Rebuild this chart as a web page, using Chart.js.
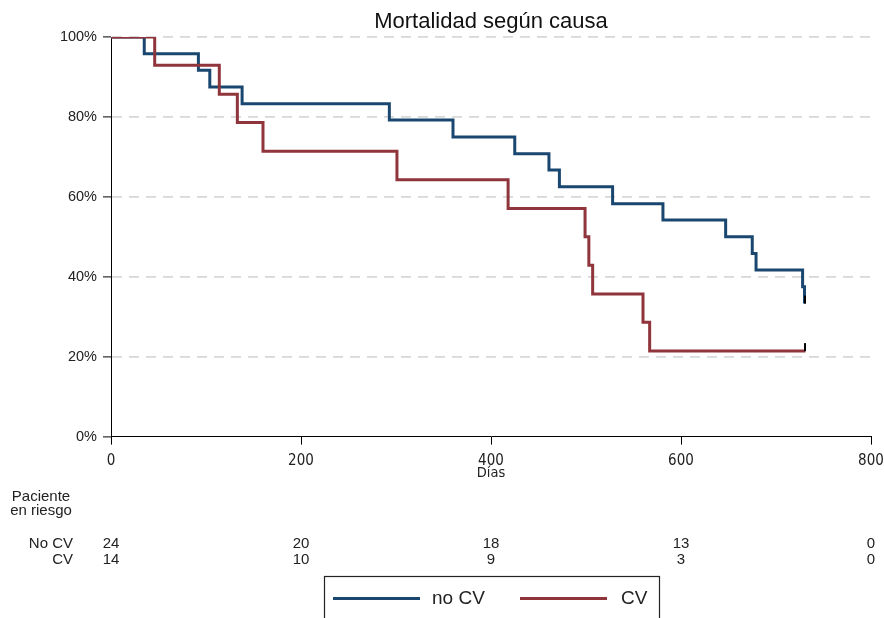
<!DOCTYPE html>
<html lang="es">
<head>
<meta charset="utf-8">
<title>Mortalidad según causa</title>
<script src="https://cdn.jsdelivr.net/npm/chart.js@4/dist/chart.umd.min.js"></script>
<style>
  html, body { margin: 0; padding: 0; background: #ffffff; }
  canvas { display: block; }
</style>
</head>
<body>
<canvas id="km" width="884" height="618"></canvas>
<script>
// Kaplan–Meier survival steps: [day, survival] after each event
const noCvDays     = [0, 35, 92, 104, 138, 293, 360, 425, 461, 472, 528, 581, 647, 675, 679, 728, 730];
const noCvSurvival = [1.000, 0.958, 0.917, 0.875, 0.833, 0.792, 0.750, 0.708, 0.667, 0.625, 0.583, 0.542, 0.500, 0.458, 0.417, 0.375, 0.333];

const cvDays     = [0, 46, 114, 133, 160, 301, 418, 499, 503, 507, 560, 567, 731];
const cvSurvival = [1.000, 0.929, 0.857, 0.786, 0.714, 0.643, 0.571, 0.500, 0.429, 0.357, 0.286, 0.214, 0.214];

// censored observations at end of follow-up
const noCvCensorDay = 731, noCvCensorValue = 0.333;
const cvCensorDay = 731,   cvCensorValue = 0.214;

// number at risk table
const riskTimes = [0, 200, 400, 600, 800];
const riskNoCv  = [24, 20, 18, 13, 0];
const riskCv    = [14, 10, 9, 3, 0];

const seriesLabels = ['no CV', 'CV'];
const riskRowLabels = ['No CV', 'CV'];
const yTickValues = [0, 0.2, 0.4, 0.6, 0.8, 1.0];
const xTickValues = [0, 200, 400, 600, 800];

const BLUE = '#1a476f';
const RED = '#90353b';
const FONT = '"Liberation Sans", Arial, Helvetica, sans-serif';
const NARROW = '"Liberation Sans Narrow", "Arial Narrow", "DejaVu Sans Condensed", "Liberation Sans", sans-serif';

const toPoints = (xs, ys) => xs.map((x, i) => ({ x, y: ys[i] }));

// small black vertical tick rising from the censored point
function censorGlyph() {
  const c = document.createElement('canvas');
  c.width = 2; c.height = 18;
  const g = c.getContext('2d');
  g.fillStyle = '#000';
  g.fillRect(0, 1, 2, 8);
  return c;
}
const censorMark = censorGlyph();

const riskTablePlugin = {
  id: 'riskTable',
  afterDraw(chart) {
    const { ctx } = chart;
    const xs = chart.scales.x;
    ctx.save();
    ctx.fillStyle = '#222';
    ctx.font = '15px ' + FONT;
    ctx.textBaseline = 'middle';
    ctx.textAlign = 'center';
    ctx.fillText('Paciente', 41, 497);
    ctx.fillText('en riesgo', 41, 511);

    ctx.textAlign = 'right';
    ctx.fillText(riskRowLabels[0], 73, 544);
    ctx.fillText(riskRowLabels[1], 73, 560);

    ctx.textAlign = 'center';
    riskTimes.forEach((t, i) => {
      const px = xs.getPixelForValue(t);
      ctx.fillText(String(riskNoCv[i]), px, 544);
      ctx.fillText(String(riskCv[i]), px, 560);
    });

    // legend box
    ctx.strokeStyle = '#222';
    ctx.lineWidth = 1.2;
    ctx.strokeRect(324.5, 576.5, 335, 50);
    const ds = chart.data.datasets;
    const entries = [
      { color: ds[0].borderColor, label: ds[0].label, x0: 333, x1: 420, tx: 432 },
      { color: ds[1].borderColor, label: ds[1].label, x0: 520, x1: 607, tx: 621 }
    ];
    ctx.font = '19px ' + FONT;
    ctx.textAlign = 'left';
    entries.forEach(e => {
      ctx.strokeStyle = e.color;
      ctx.lineWidth = 3;
      ctx.beginPath();
      ctx.moveTo(e.x0, 598.5);
      ctx.lineTo(e.x1, 598.5);
      ctx.stroke();
      ctx.fillStyle = '#222';
      ctx.fillText(e.label, e.tx, 599);
    });
    ctx.restore();
  }
};

new Chart(document.getElementById('km'), {
  type: 'line',
  data: {
    datasets: [
      {
        label: seriesLabels[0],
        data: toPoints(noCvDays, noCvSurvival),
        borderColor: BLUE,
        borderWidth: 3,
        stepped: 'before',
        pointRadius: 0,
        fill: false,
        order: 2
      },
      {
        label: seriesLabels[1],
        data: toPoints(cvDays, cvSurvival),
        borderColor: RED,
        borderWidth: 3,
        stepped: 'before',
        pointRadius: 0,
        fill: false,
        order: 1
      },
      {
        label: 'censored',
        type: 'scatter',
        data: [{ x: noCvCensorDay, y: noCvCensorValue }, { x: cvCensorDay, y: cvCensorValue }],
        pointStyle: censorMark,
        pointRadius: 5,
        showLine: false,
        order: 0
      }
    ]
  },
  options: {
    responsive: false,
    devicePixelRatio: 1,
    animation: false,
    layout: { padding: { left: 51, right: 13, top: 0, bottom: 136 } },
    plugins: {
      legend: { display: false },
      tooltip: { enabled: false },
      title: {
        display: true,
        text: 'Mortalidad según causa',
        fullSize: false,
        color: '#111',
        font: { family: FONT, size: 22, weight: 'normal', lineHeight: 1.2 },
        padding: { top: 9, bottom: 1.6 }
      }
    },
    scales: {
      x: {
        type: 'linear',
        min: 0,
        max: 800,
        afterBuildTicks(scale) { scale.ticks = xTickValues.map(v => ({ value: v })); },
        afterFit(scale) {
          scale.height = 45.4;
          scale.paddingLeft = 0;
          scale.paddingRight = 0;
        },
        ticks: {
          color: '#222',
          font: { family: NARROW, size: 15 },
          padding: 8,
          maxRotation: 0
        },
        grid: {
          display: true,
          drawOnChartArea: false,
          drawTicks: true,
          tickLength: 8,
          tickColor: '#000',
          tickWidth: 1
        },
        border: { display: true, color: '#000', width: 1 },
        title: {
          display: true,
          text: 'Días',
          color: '#222',
          font: { family: NARROW, size: 14.5 },
          padding: { top: 0, bottom: 0 }
        }
      },
      y: {
        type: 'linear',
        min: 0,
        max: 1,
        afterBuildTicks(scale) { scale.ticks = yTickValues.map(v => ({ value: v })); },
        afterFit(scale) { scale.width = 60; },
        ticks: {
          color: '#222',
          font: { family: FONT, size: 14.5 },
          padding: 6,
          callback: v => Math.round(v * 100) + '%'
        },
        grid: {
          display: true,
          drawOnChartArea: true,
          color: ctx => (ctx.tick && ctx.tick.value === 0) ? 'rgba(0,0,0,0)' : '#d8d8d8',
          lineWidth: 1.8,
          tickLength: 8,
          tickColor: '#000',
          tickWidth: 1,
          tickBorderDash: []
        },
        border: { display: true, color: '#000', width: 1, dash: [10, 7] }
      }
    }
  },
  plugins: [riskTablePlugin]
});
</script>
</body>
</html>
